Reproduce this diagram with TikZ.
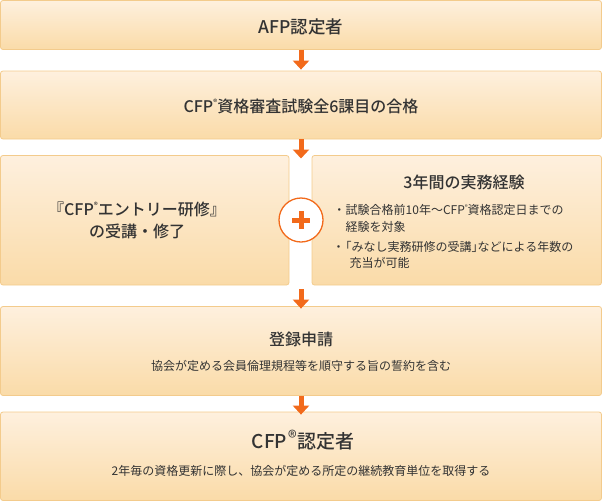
\documentclass[tikz,border=0pt]{standalone}
\usepackage{fontspec}
\setmainfont{Noto Sans CJK JP}[BoldFont={Noto Sans CJK JP Medium}]
\usetikzlibrary{arrows.meta}
\definecolor{bordc}{HTML}{F3CB8C}
\definecolor{topc}{HTML}{FEF0DE}
\definecolor{botc}{HTML}{FADBA8}
\definecolor{arrc}{HTML}{F26A1B}
\definecolor{txtc}{HTML}{333333}
\newcommand\rsup{\raisebox{0.42em}{\scalebox{0.5}{®}}}
\newcommand\rbig{\hspace{0.06em}\raisebox{0.22em}{\scalebox{0.95}{\mdseries ®}}\hspace{0.02em}}
\tikzset{
  box/.style={draw=bordc, line width=0.8pt, rounded corners=2.5pt,
    top color=topc, bottom color=botc, inner sep=0pt},
  ttl/.style={anchor=base, text=txtc, inner sep=0pt,
    font=\bfseries\fontsize{#1}{#1}\selectfont},
  ttl/.default=16,
  sub/.style={anchor=base, text=txtc, inner sep=0pt,
    font=\fontsize{12}{12}\selectfont},
  subw/.style={sub, anchor=base west},
  flow/.style={draw=arrc, line width=5pt,
    -{Triangle[width=16pt,length=9pt]}},
  plusc/.style={circle, draw=arrc, line width=1.3pt, fill=white,
    minimum size=44pt, inner sep=0pt}
}
\begin{document}
\begin{tikzpicture}[x=1pt,y=-1pt]
\useasboundingbox (0,0) rectangle (602,501);
% boxes
\node[box, minimum width=601pt, minimum height=49pt] (b1) at (301,25) {};
\node[box, minimum width=601pt, minimum height=68pt] (b2) at (301,105) {};
\node[box, minimum width=288.5pt, minimum height=129.5pt] (b3l) at (144.75,220.25) {};
\node[box, minimum width=289.5pt, minimum height=129.5pt] (b3r) at (456.75,220.25) {};
\node[box, minimum width=601pt, minimum height=89pt] (b4) at (301,351) {};
\node[box, minimum width=601pt, minimum height=88.5pt] (b5) at (301,456.25) {};
% connector ends
\coordinate (a2e) at (301,158.5);
\coordinate (a3s) at (301,289);
% arrows
\draw[flow, shorten >=1pt] (b1.south) -- (b2.north);
\draw[flow] (b2.south) -- (a2e);
\draw[flow, shorten >=-2.5pt] (a3s) -- (b4.north);
\draw[flow, shorten >=-3pt] (b4.south) -- (b5.north);
% plus
\node[plusc] (plus) at (301,220) {};
\draw[arrc, line width=5pt] (plus.center) ++(-9,0) -- ++(18,0);
\draw[arrc, line width=5pt] (plus.center) ++(0,-9) -- ++(0,18);
% texts
\node[ttl=17.5] (t1) at (301,33) {AFP認定者};
\node[ttl] (t2) at (301,112) {CFP\rsup 資格審査試験全6課目の合格};
\node[ttl] (t3a) at (137,215.6) {『CFP\rsup エントリー研修』};
\node[ttl] (t3b) at (137,237.1) {の受講・修了};
\node[ttl] (t4) at (464,188) {3年間の実務経験};
\node[sub] (d1) at (339.3,214.6) {・};
\node[subw] (l1) at (345.5,214.6) {試験合格前10年〜CFP\rsup 資格認定日までの};
\node[subw] (l2) at (345.5,231.1) {経験を対象};
\node[sub] (d2) at (338.5,251.1) {・};
\node[subw] (l3) at (345.5,251.1) {\hspace{-6pt}「みなし実務研修の受講」\hspace{-6pt}などによる年数の};
\node[subw] (l4) at (349.5,267.6) {充当が可能};
\node[ttl] (t5) at (301,345) {登録申請};
\node[sub] (s5) at (301,370.6) {協会が定める会員倫理規程等を順守する旨の誓約を含む};
\node[ttl=19] (t6) at (303,448.2) {CFP\rbig 認定者};
\node[sub] (s6) at (301,475.6) {2年毎の資格更新に際し、協会が定める所定の継続教育単位を取得する};
\end{tikzpicture}
\end{document}
